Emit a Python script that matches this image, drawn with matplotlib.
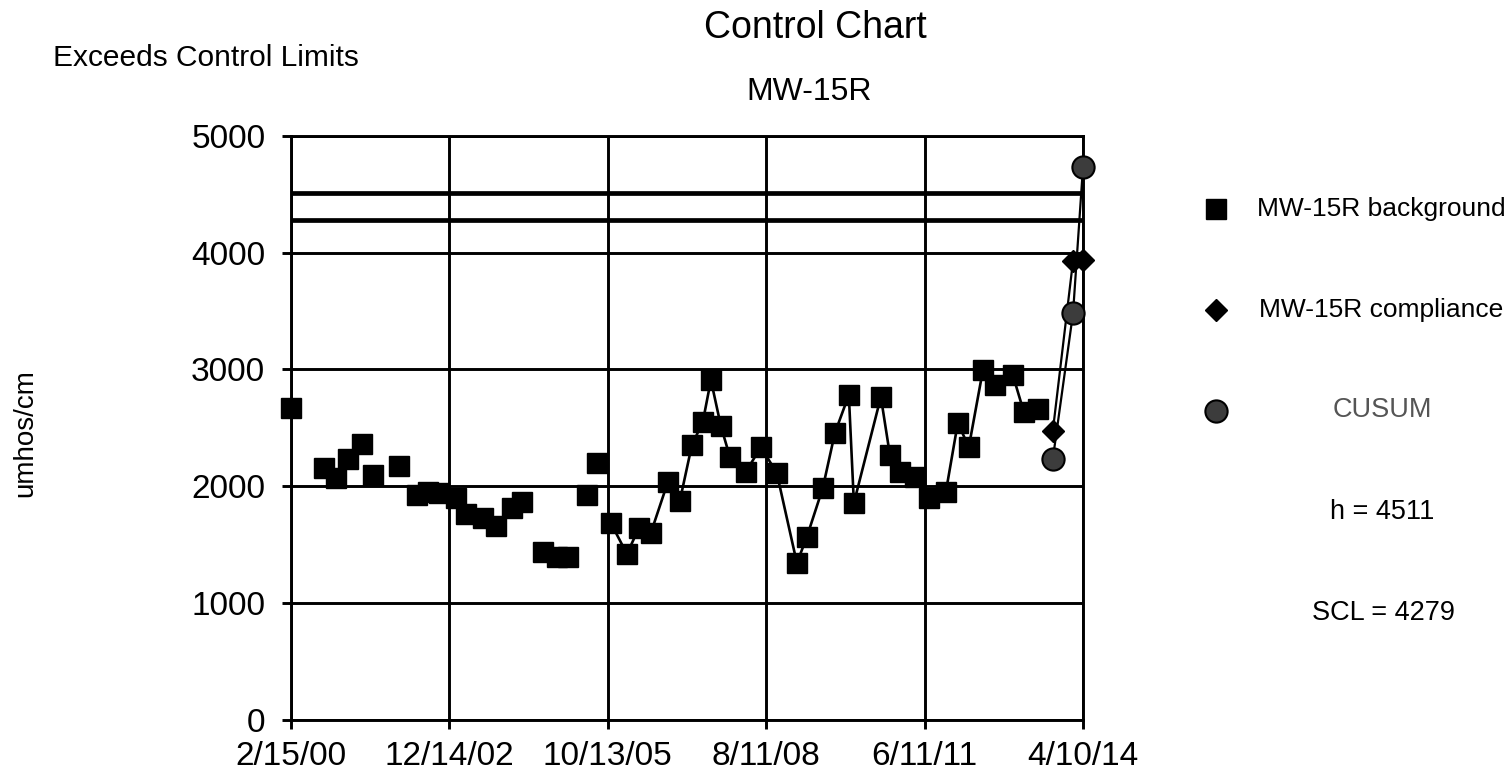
import numpy as np
import pandas as pd
import matplotlib
matplotlib.use("Agg")
import matplotlib.pyplot as plt
from matplotlib.lines import Line2D

plt.rcParams['font.family'] = ['Liberation Sans', 'DejaVu Sans']

# MW-15R background samples (umhos/cm)
bg_dates = ['2000-02-15', '2000-09-17', '2000-12-05', '2001-02-21', '2001-05-23', '2001-08-03',
            '2002-01-20', '2002-05-17', '2002-07-28', '2002-10-08', '2003-01-27', '2003-04-02',
            '2003-07-22', '2003-10-15', '2004-01-27', '2004-03-31', '2004-08-15', '2004-11-15',
            '2005-01-26', '2005-05-29', '2005-08-03', '2005-11-02', '2006-02-15', '2006-05-04',
            '2006-07-21', '2006-11-09', '2007-01-26', '2007-04-15', '2007-06-25', '2007-08-17',
            '2007-10-21', '2007-12-19', '2008-04-01', '2008-07-08', '2008-10-20', '2009-02-28',
            '2009-05-04', '2009-08-16', '2009-11-03', '2010-02-02', '2010-03-07', '2010-08-30',
            '2010-10-28', '2011-01-01', '2011-04-09', '2011-07-09', '2011-10-28', '2012-01-14',
            '2012-03-26', '2012-06-26', '2012-09-12', '2013-01-07', '2013-03-20', '2013-06-19']
bg_vals = [2670, 2155, 2069, 2232, 2361, 2095, 2172, 1924, 1949, 1941, 1898, 1761,
           1727, 1658, 1812, 1864, 1435, 1392, 1392, 1924, 2198, 1684, 1418, 1641,
           1598, 2035, 1872, 2352, 2549, 2909, 2515, 2249, 2121, 2335, 2112, 1341,
           1564, 1984, 2455, 2781, 1855, 2764, 2267, 2121, 2078, 1898, 1949, 2541,
           2335, 2995, 2866, 2952, 2635, 2661]
# first samples are not joined by a line
n_unjoined = 21

# compliance samples and CUSUM
comp_dates = ['2013-09-25', '2014-02-04', '2014-04-10']
comp_vals = [2472, 3930, 3935]
cusum_vals = [2232, 3483, 4734]

h_val = 4511
scl_val = 4279

tick_labels = ['2/15/00', '12/14/02', '10/13/05', '8/11/08', '6/11/11', '4/10/14']
y_ticks = [0, 1000, 2000, 3000, 4000, 5000]

bg_x = pd.to_datetime(bg_dates)
comp_x = pd.to_datetime(comp_dates)
tick_x = pd.to_datetime(tick_labels, format='%m/%d/%y')

W, H = 1511, 773
fig = plt.figure(figsize=(W / 100, H / 100), dpi=100)
ax = fig.add_axes([291 / W, (H - 719.5) / H, (1083 - 291) / W, (719.5 - 136) / H])

# control limits
ax.plot([tick_x[0], tick_x[-1]], [h_val, h_val], color='black', lw=3.4, zorder=2)
ax.plot([tick_x[0], tick_x[-1]], [scl_val, scl_val], color='black', lw=3.4, zorder=2)

# background
ax.plot(bg_x[:n_unjoined], bg_vals[:n_unjoined], linestyle='none', marker='s',
        ms=14.5, color='black', clip_on=False, zorder=4)
ax.plot(bg_x[n_unjoined:], bg_vals[n_unjoined:], '-', marker='s', ms=14.5, lw=1.9,
        color='black', clip_on=False, zorder=4)

# compliance + cusum
ax.plot(comp_x, comp_vals, '-', marker='D', ms=11, lw=1.6, color='black',
        clip_on=False, zorder=5)
ax.plot(comp_x, cusum_vals, '-', marker='o', ms=16, lw=1.6, color='black',
        markerfacecolor='#3c3c3c', markeredgecolor='black', mew=1.5,
        clip_on=False, zorder=6)

ax.set_xlim(tick_x[0], tick_x[-1])
ax.set_ylim(0, 5000)
ax.set_xticks(tick_x)
ax.set_xticklabels(tick_labels)
ax.set_yticks(y_ticks)
ax.grid(True, color='black', lw=2.1, zorder=1)
ax.set_axisbelow(True)
for sp in ax.spines.values():
    sp.set_linewidth(2.1)
ax.tick_params(axis='both', labelsize=24, length=6.5, width=2.1, direction='out')
ax.tick_params(axis='y', pad=12)
ax.tick_params(axis='x', pad=9)

# titles and labels
fig.text(815 / W, 1 - 28 / H, 'Control Chart', ha='center', va='center', fontsize=27)
fig.text(809 / W, 1 - 92 / H, 'MW-15R', ha='center', va='center', fontsize=23)
fig.text(53 / W, 1 - 58 / H, 'Exceeds Control Limits', ha='left', va='center', fontsize=21.5)
fig.text(25 / W, 1 - 433 / H, 'umhos/cm', ha='center', va='center', rotation=90, fontsize=20)

# legend drawn by hand
leg_x = 1216 / W
fig.add_artist(Line2D([leg_x], [1 - 209 / H], marker='s', ms=14.5, color='black',
                      linestyle='none', transform=fig.transFigure))
fig.add_artist(Line2D([leg_x], [1 - 310 / H], marker='D', ms=11, color='black',
                      linestyle='none', transform=fig.transFigure))
fig.add_artist(Line2D([leg_x], [1 - 411 / H], marker='o', ms=16, color='black',
                      markerfacecolor='#3c3c3c', mew=1.5, linestyle='none',
                      transform=fig.transFigure))
fig.text(1257 / W, 1 - 209 / H, 'MW-15R background', ha='left', va='center', fontsize=19)
fig.text(1259 / W, 1 - 310 / H, 'MW-15R compliance', ha='left', va='center', fontsize=19)
fig.text(1382 / W, 1 - 410 / H, 'CUSUM', ha='center', va='center', fontsize=19.5, color='#555555')
fig.text(1382 / W, 1 - 512 / H, 'h = %d' % h_val, ha='center', va='center', fontsize=19.5)
fig.text(1383 / W, 1 - 613 / H, 'SCL = %d' % scl_val, ha='center', va='center', fontsize=19.5)

fig.savefig('out.png', dpi=100)
